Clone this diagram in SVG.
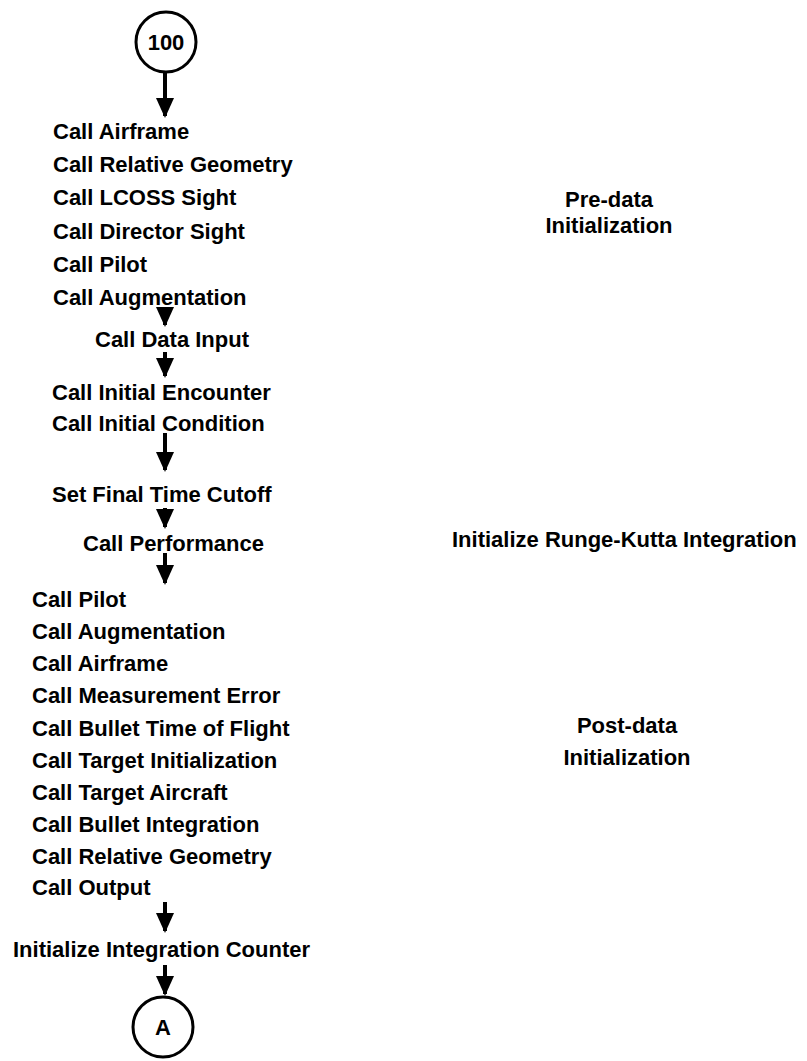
<svg xmlns="http://www.w3.org/2000/svg" width="807" height="1061" viewBox="0 0 807 1061">
<style>
text{font-family:"Liberation Sans",Arial,sans-serif;font-weight:bold;font-size:22px;fill:#000}
.c{text-anchor:middle}
.node{fill:#fff;stroke:#000;stroke-width:3}
.conn{stroke:#000;stroke-width:4;fill:none}
</style>
<defs>
<marker id="ah" markerUnits="userSpaceOnUse" markerWidth="20" markerHeight="22" refX="18" refY="9" orient="auto" viewBox="0 0 20 18">
<path d="M0,0 L20,9 L0,18 Z" fill="#000"/>
</marker>
</defs>
<rect width="807" height="1061" fill="#fff"/>
<g id="connectors">
<line class="conn" x1="165" y1="72" x2="165" y2="116" marker-end="url(#ah)"/>
<line class="conn" x1="165" y1="308" x2="165" y2="325" marker-end="url(#ah)"/>
<line class="conn" x1="165" y1="352" x2="165" y2="376" marker-end="url(#ah)"/>
<line class="conn" x1="165" y1="433" x2="165" y2="470" marker-end="url(#ah)"/>
<line class="conn" x1="165" y1="508" x2="165" y2="527" marker-end="url(#ah)"/>
<line class="conn" x1="165" y1="553" x2="165" y2="583" marker-end="url(#ah)"/>
<line class="conn" x1="165" y1="902" x2="165" y2="931" marker-end="url(#ah)"/>
<line class="conn" x1="165" y1="965" x2="165" y2="994" marker-end="url(#ah)"/>
</g>
<g id="start">
<circle class="node" cx="166" cy="42" r="30"/>
<text class="c" x="166" y="50">100</text>
</g>
<g id="predata-calls">
<text x="53" y="139">Call Airframe</text>
<text x="53" y="172">Call Relative Geometry</text>
<text x="53" y="205">Call LCOSS Sight</text>
<text x="53" y="239">Call Director Sight</text>
<text x="53" y="272">Call Pilot</text>
<text x="53" y="305">Call Augmentation</text>
</g>
<g id="data-input"><text x="95" y="347">Call Data Input</text></g>
<g id="initial">
<text x="52" y="400">Call Initial Encounter</text>
<text x="52" y="431">Call Initial Condition</text>
</g>
<g id="cutoff"><text x="52" y="502">Set Final Time Cutoff</text></g>
<g id="performance"><text x="83" y="551">Call Performance</text></g>
<g id="postdata-calls">
<text x="32" y="607">Call Pilot</text>
<text x="32" y="639">Call Augmentation</text>
<text x="32" y="671">Call Airframe</text>
<text x="32" y="703">Call Measurement Error</text>
<text x="32" y="736">Call Bullet Time of Flight</text>
<text x="32" y="768">Call Target Initialization</text>
<text x="32" y="800">Call Target Aircraft</text>
<text x="32" y="832">Call Bullet Integration</text>
<text x="32" y="864">Call Relative Geometry</text>
<text x="32" y="895">Call Output</text>
</g>
<g id="counter"><text x="13" y="957">Initialize Integration Counter</text></g>
<g id="end">
<circle class="node" cx="163" cy="1027" r="30"/>
<text class="c" x="163" y="1035">A</text>
</g>
<g id="labels">
<text class="c" x="609" y="207">Pre-data</text>
<text class="c" x="609" y="233">Initialization</text>
<text x="452" y="547">Initialize Runge-Kutta Integration</text>
<text class="c" x="627" y="733">Post-data</text>
<text class="c" x="627" y="765">Initialization</text>
</g>
</svg>
